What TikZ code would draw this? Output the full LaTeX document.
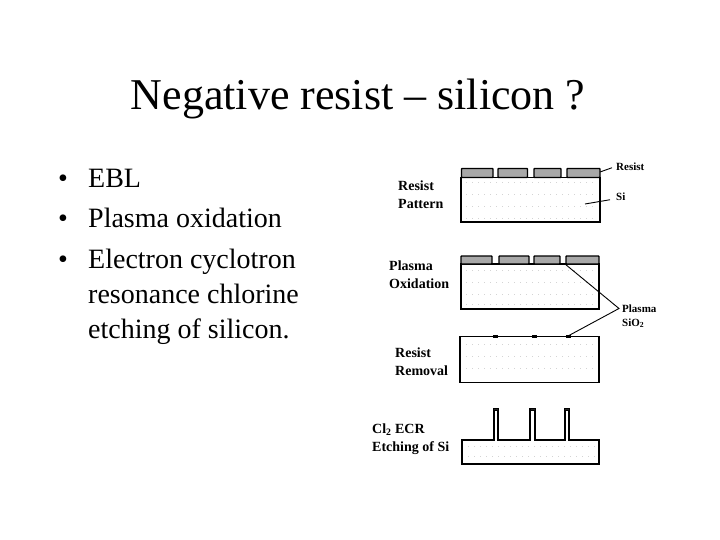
\documentclass[tikz,border=0pt]{standalone}
\usepackage{fontspec}
\setmainfont{Liberation Serif}
\definecolor{ResistGray}{HTML}{A8A8A8}
\definecolor{SiDots}{HTML}{D4D4D4}

\begin{document}
\begin{tikzpicture}[
    x=1pt, y=-1pt,
    slide text/.style={anchor=base west, inner sep=0pt, font=\fontsize{28}{28}\selectfont},
    step label/.style={anchor=base west, inner sep=0pt, align=left,
                       font=\fontsize{14}{18}\selectfont\bfseries},
    part label/.style={anchor=base west, inner sep=0pt, align=left,
                       font=\fontsize{11}{14}\selectfont\bfseries},
    outline/.style={draw=black, line width=1.3pt, fill=white},
    resist/.style={draw=black, line width=1.3pt, fill=ResistGray, rounded corners=0.6pt},
    fincap/.style={draw=black, fill=black!85, line width=0.5pt},
    leader/.style={draw=black, line width=0.9pt},
    speckle/.style={draw=SiDots, line width=0.5pt, dash pattern=on 1pt off 5pt}
]
    \useasboundingbox (0,0) rectangle (720,540);
    \fill[white] (0,0) rectangle (720,540);

    \node[inner sep=0pt, anchor=base, font=\fontsize{44}{44}\selectfont] (title)
        at (358,110) {Negative resist -- silicon ?};

    % Bullet list
    \node[slide text] (bullet1) at (58,188) {•};
    \node[slide text] (bullet2) at (58,228) {•};
    \node[slide text] (bullet3) at (58,268) {•};
    \node[slide text] (ebl) at (88,188) {EBL};
    \node[slide text] (oxidation) at (88,228) {Plasma oxidation};
    \node[slide text] (electron) at (88,268) {Electron cyclotron};
    \node[slide text] (resonance) at (88,303) {resonance chlorine};
    \node[slide text] (etching) at (88,338) {etching of silicon.};

    % Resist pattern
    \draw[outline] (461,177.5) rectangle (600,222);
    \foreach \a/\b in {461.5/493,498/527.5,534/561,567/600} {
        \draw[resist] (\a,168.5) rectangle (\b,177.5);
    }
    \foreach \y in {182,194,206,218} {
        \draw[speckle] (466,\y) -- (596,\y);
    }
    \node[step label] (pattern) at (398,209) {Resist\\Pattern};
    \node[part label] (resistpart) at (616,171) {Resist};
    \node[part label] (sipart) at (616,201) {Si};
    \coordinate (resisttip) at (600,172);
    \coordinate (sitip) at (585,204);
    \draw[leader] (resistpart.west) ++(-4,0.5) -- (resisttip);
    \draw[leader] (sipart.west) ++(-6,2.5) -- (sitip);

    % Plasma oxidation
    \draw[outline] (461,264) rectangle (599,309);
    \foreach \a/\b in {461/492,499/529,534/560,566/599} {
        \draw[resist] (\a,256) rectangle (\b,264);
    }
    \foreach \y in {270,282,294,304} {
        \draw[speckle] (466,\y) -- (595,\y);
    }
    \node[step label] (oxide) at (389,288) {Plasma\\Oxidation};

    % Shared label for the oxide
    \node[part label] (plasmasio) at (622,326) {Plasma\\SiO\textsubscript{2}};
    \coordinate (bend) at (619,308.5);
    \coordinate (oxidetop) at (565,264);
    \coordinate (oxidebottom) at (568,336);
    \draw[leader] (oxidetop) -- (bend) -- (oxidebottom);

    % Resist removal
    \draw[outline] (460,336.5) rectangle (599,382.5);
    \foreach \x in {495,534,568} {
        \fill[black] (\x-2.5,335) rectangle (\x+2.5,338);
    }
    \foreach \y in {344,356,368} {
        \draw[speckle] (466,\y) -- (595,\y);
    }
    \node[step label] (removal) at (395,375) {Resist\\Removal};

    % ECR etching
    \draw[outline] (462,440) -- (494,440) -- (494,409) -- (498,409) -- (498,440)
        -- (530,440) -- (530,409) -- (535,409) -- (535,440)
        -- (565,440) -- (565,409) -- (569,409) -- (569,440)
        -- (599,440) -- (599,464) -- (462,464) -- cycle;
    \foreach \x in {496,532.5,567} {
        \draw[fincap] (\x-2.5,408) rectangle (\x+2.5,410.5);
    }
    \draw[speckle] (468,446) -- (595,446);
    \draw[speckle] (468,456) -- (595,456);
    \node[step label] (ecr) at (372,451) {Cl\textsubscript{2} ECR\\Etching of Si};
\end{tikzpicture}
\end{document}
